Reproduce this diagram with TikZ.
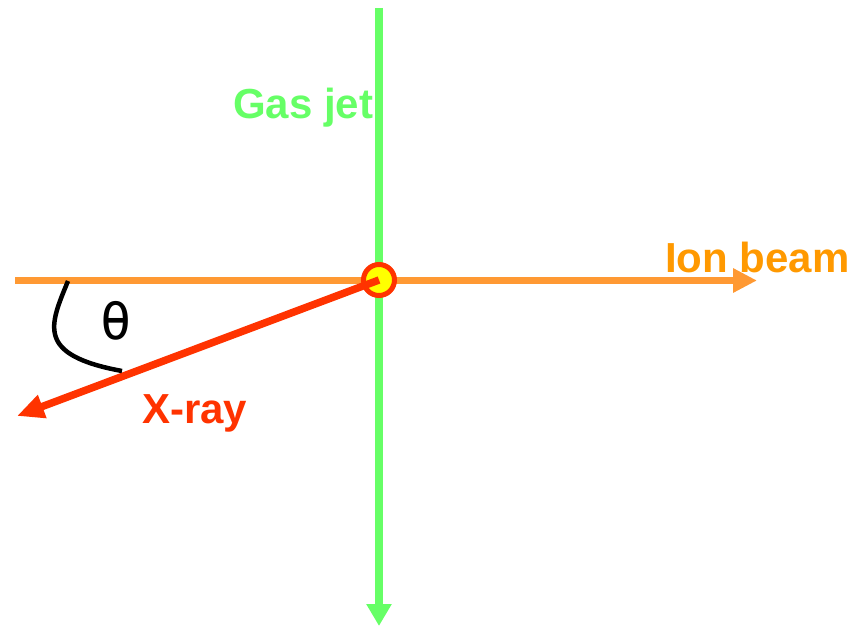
\documentclass[tikz,border=0pt]{standalone}
\usepackage{fontspec}
\setmainfont{Liberation Sans}
\newfontfamily\thetafont{DejaVu Sans Mono}
\usetikzlibrary{arrows.meta}
\definecolor{jetgreen}{RGB}{102,255,102}
\definecolor{beamorange}{RGB}{255,153,51}
\definecolor{beamtext}{RGB}{255,153,0}
\definecolor{xred}{RGB}{255,51,0}
\definecolor{dotyellow}{RGB}{255,255,0}
\tikzset{
  lbl/.style={inner sep=0pt, anchor=base west, font=\fontsize{42}{50}\selectfont\bfseries},
  beam/.style={line width=7.5pt},
}
\begin{document}
\begin{tikzpicture}[x=1pt,y=-1pt]
\useasboundingbox (0,0) rectangle (854,626);
% coordinates
\coordinate (ionstart) at (15,280.5);
\coordinate (ionend) at (757,280.5);
\coordinate (jettop) at (379,8);
\coordinate (jetend) at (379,626);
\coordinate (xend) at (17,416);
\coordinate (arcA) at (68,281);
\coordinate (arcB) at (122,371);
% ion beam
\draw[beam, beamorange, -{Triangle[length=24pt,width=23pt]}] (ionstart) -- (ionend);
% gas jet
\draw[line width=8.5pt, jetgreen, -{Triangle[length=22pt,width=24pt]}] (jettop) -- (jetend);
% interaction point
\node[circle, draw=xred, fill=dotyellow, line width=5pt, minimum size=31pt, inner sep=0pt] (ip) at (379,280) {};
% x-ray
\draw[beam, xred, -{Triangle[length=27pt,width=23pt]}] (ip.center) -- (xend);
% angle arc
\draw[line width=4.5pt, black] (arcA) .. controls (50,325) and (35,355) .. (arcB);
% labels
\node[lbl, text=jetgreen] (gas) at (233,118) {Gas jet};
\node[lbl, text=beamtext] (ion) at (665,272) {Ion beam};
\node[lbl, text=xred] (xray) at (142,423) {X-ray};
\node[inner sep=0pt, font=\thetafont\fontsize{52}{60}\selectfont] (theta) at (116,321) {θ};
\end{tikzpicture}
\end{document}
